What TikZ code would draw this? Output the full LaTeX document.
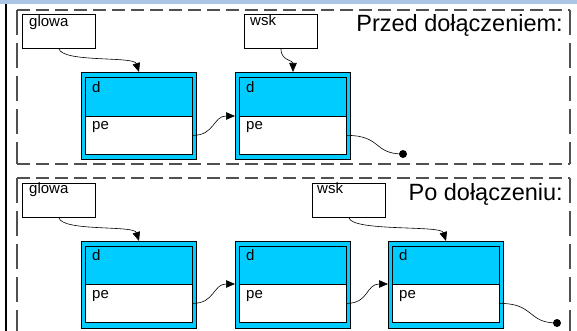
\documentclass[tikz,border=0pt]{standalone}
\usepackage{fontspec}
\setmainfont{Liberation Sans}
\usetikzlibrary{arrows.meta,calc}
\definecolor{cellcyan}{RGB}{0,204,255}
\definecolor{dashgray}{RGB}{80,80,80}
\definecolor{topstrip}{RGB}{170,198,228}
\begin{document}
\begin{tikzpicture}[x=1pt,y=-1pt,
  ptrbox/.style={draw=black, line width=0.8pt, fill=white, minimum width=73pt, minimum height=34pt, inner sep=0pt, anchor=north west},
  outerbox/.style={draw=black, line width=1pt, fill=cellcyan, minimum width=115pt, minimum height=87pt, inner sep=0pt, anchor=north west},
  dbox/.style={draw=black, line width=0.8pt, fill=cellcyan, minimum width=107pt, minimum height=39pt, inner sep=0pt, anchor=north west},
  pbox/.style={draw=black, line width=0.8pt, fill=white, minimum width=107pt, minimum height=38pt, inner sep=0pt, anchor=north west},
  lbl/.style={anchor=base west, inner sep=0pt, font=\fontsize{15}{18}\selectfont},
  ttl/.style={anchor=base east, inner sep=0pt, font=\fontsize{23.5}{28}\selectfont},
  conn/.style={draw=black, line width=0.6pt, -{Triangle[length=9pt,width=7.5pt]}},
  tail/.style={draw=black, line width=0.6pt},
  enddot/.style={circle, fill=black, minimum size=8pt, inner sep=0pt},
  hdash/.style={draw=dashgray, line width=2pt, dash pattern=on 13pt off 6pt},
  vdash/.style={draw=dashgray, line width=2pt, dash pattern=on 25pt off 8pt}
]
\useasboundingbox (0,0) rectangle (577,331);
\clip (0,0) rectangle (577,331);
\fill[white] (0,0) rectangle (577,331);
\fill[topstrip] (0,0) rectangle (577,4);
\fill[black] (5,4) rectangle (7,331);

% ---------- top panel ----------
\draw[hdash] (17,10.5) -- (570,10.5);
\draw[hdash] (17,164) -- (570,164);
\draw[vdash] (17,10.5) -- (17,164);
\draw[vdash] (570,10.5) -- (570,164);

\node[ttl] (t1) at (563,32) {Przed dołączeniem:};

\node[ptrbox] (g1) at (22,14) {};
\node[lbl] (g1t) at (29,27) {glowa};
\node[ptrbox] (w1) at (244,14) {};
\node[lbl] (w1t) at (250,26) {wsk};

\node[outerbox] (a1) at (81,72) {};
\node[dbox] (ad1) at (85,77) {};
\node[pbox] (ap1) at (85,116) {};
\node[lbl] (ad1t) at (92,93) {d};
\node[lbl] (ap1t) at (92,130) {pe};

\node[outerbox] (a2) at (235,72) {};
\node[dbox] (ad2) at (239,77) {};
\node[pbox] (ap2) at (239,116) {};
\node[lbl] (ad2t) at (246,93) {d};
\node[lbl] (ap2t) at (246,130) {pe};

\node[enddot] (e1) at (403,154) {};

\draw[conn] (g1.south) .. controls +(4,14) and +(-5,-16) .. (a1.north);
\draw[conn] (w1.south) .. controls +(0,12) and +(0,-12) .. (a2.north);
\draw[conn] (ap1.east) .. controls +(22,0) and +(-22,0) .. (a2.west |- ap2.north);
\draw[tail] (ap2.east) .. controls +(35,0) and +(-30,0) .. (e1.center);

% ---------- bottom panel ----------
\draw[hdash] (17,178) -- (570,178);
\draw[vdash] (17,178) -- (17,340);
\draw[vdash] (570,178) -- (570,340);

\node[ttl] (t2) at (563,200) {Po dołączeniu:};

\node[ptrbox] (g2) at (22,183) {};
\node[lbl] (g2t) at (29,193) {glowa};
\node[ptrbox] (w2) at (312,183) {};
\node[lbl] (w2t) at (317,193) {wsk};

\node[outerbox] (b1) at (81,241) {};
\node[dbox] (bd1) at (85,246) {};
\node[pbox] (bp1) at (85,284) {};
\node[lbl] (bd1t) at (92,260) {d};
\node[lbl] (bp1t) at (92,298) {pe};

\node[outerbox] (b2) at (235,241) {};
\node[dbox] (bd2) at (239,246) {};
\node[pbox] (bp2) at (239,284) {};
\node[lbl] (bd2t) at (246,260) {d};
\node[lbl] (bp2t) at (246,298) {pe};

\node[outerbox] (b3) at (388,241) {};
\node[dbox] (bd3) at (392,246) {};
\node[pbox] (bp3) at (392,284) {};
\node[lbl] (bd3t) at (399,260) {d};
\node[lbl] (bp3t) at (399,298) {pe};

\node[enddot] (e2) at (557,323) {};

\draw[conn] (g2.south) .. controls +(4,14) and +(-5,-16) .. (b1.north);
\draw[conn] (w2.south) .. controls +(4,14) and +(-5,-16) .. (b3.north);
\draw[conn] (bp1.east) .. controls +(22,0) and +(-22,0) .. (b2.west |- bp2.north);
\draw[conn] (bp2.east) .. controls +(22,0) and +(-22,0) .. (b3.west |- bp3.north);
\draw[tail] (bp3.east) .. controls +(35,0) and +(-30,0) .. (e2.center);
\end{tikzpicture}
\end{document}
